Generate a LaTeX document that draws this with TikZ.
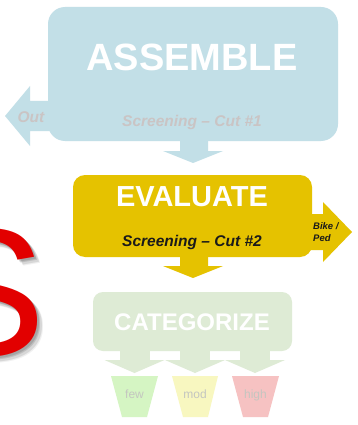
\documentclass[tikz,border=0pt]{standalone}
\usepackage{fontspec}
\setmainfont{Liberation Sans}
\definecolor{asmblue}{RGB}{194,223,231}
\definecolor{evgold}{RGB}{229,194,0}
\definecolor{catgreen}{RGB}{222,235,213}
\definecolor{fewgreen}{RGB}{213,245,195}
\definecolor{modyellow}{RGB}{248,247,192}
\definecolor{highpink}{RGB}{246,194,194}
\definecolor{fadetext}{RGB}{202,196,196}
\definecolor{bucktext}{RGB}{196,198,192}
\definecolor{darktext}{RGB}{26,26,26}
\definecolor{sred}{RGB}{226,0,0}
\begin{document}
\begin{tikzpicture}[x=1pt,y=-1pt,
  bigtitle/.style={inner sep=0pt,text=white,font=\fontsize{#1}{#1}\selectfont\bfseries},
  subtitle/.style={inner sep=0pt,anchor=base,font=\fontsize{15.5}{16}\selectfont\bfseries\itshape},
  bucketlabel/.style={inner sep=0pt,anchor=base,text=bucktext,font=\fontsize{12}{12}\selectfont},
  sidelabel/.style={inner sep=0pt,anchor=base west,text=darktext,font=\fontsize{9.5}{10}\selectfont\bfseries\itshape}]
\useasboundingbox (0,0) rectangle (358,425);
\fill[white] (0,0) rectangle (358,425);

% big red S with shadow
\begin{scope}
\clip (0,0) rectangle (358,425);
\foreach \d/\o in {2/0.12,3.5/0.12,5/0.10,6.5/0.06}
  \node[inner sep=0pt,anchor=base west,text=black,opacity=\o,font=\fontsize{182}{182}\selectfont] at (-76+\d,355+\d) {S};
\node (bigS) [inner sep=0pt,anchor=base west,text=sred,font=\fontsize{182}{182}\selectfont] at (-76,355) {S};
\end{scope}

% ASSEMBLE
\fill[asmblue,rounded corners=17] (48,7) rectangle (338,141);
\fill[asmblue] (180,139) -- (208,139) -- (208,151) -- (223,151) -- (193,163) -- (163,151) -- (180,151) -- cycle;
\fill[asmblue] (50,101) -- (30,101) -- (30,86) -- (5,116) -- (30,146) -- (30,131) -- (50,131) -- cycle;
\node (asm) [bigtitle=38] at (192,57) {ASSEMBLE};
\node (cut1) [subtitle,text=fadetext] at (192,126) {Screening – Cut \#1};
\node (out) [subtitle,text=fadetext] at (31,122) {Out};

% EVALUATE
\fill[evgold,rounded corners=12] (73,175) rectangle (312,257);
\fill[evgold] (310,214) -- (323,214) -- (323,202) -- (352,232) -- (323,262) -- (323,250) -- (310,250) -- cycle;
\fill[evgold] (180,255) -- (208,255) -- (208,266) -- (223,266) -- (193,278) -- (163,266) -- (180,266) -- cycle;
\node (eval) [bigtitle=29] at (192,196.5) {EVALUATE};
\node (cut2) [subtitle,text=darktext] at (192,246) {Screening – Cut \#2};
\node (bike) [sidelabel] at (313,229) {Bike /};
\node (ped) [sidelabel] at (313,241) {Ped};

% CATEGORIZE
\fill[catgreen,rounded corners=10] (93,292) rectangle (292,351);
\foreach \c in {134.5,195,255}{
  \fill[catgreen] (\c-15,349) rectangle (\c+15,360);
  \fill[catgreen] (\c-30,360) -- (\c+30,360) -- (\c,373) -- cycle;
}
\node (cat) [bigtitle=24] at (192,322) {CATEGORIZE};

% buckets
\fill[fewgreen] (111,376) -- (158,376) -- (147,417) -- (122,417) -- cycle;
\fill[modyellow] (172,376) -- (218,376) -- (208,417) -- (183,417) -- cycle;
\fill[highpink] (232,376) -- (279,376) -- (268,417) -- (243,417) -- cycle;
\node (few) [bucketlabel] at (134.5,398) {few};
\node (mod) [bucketlabel] at (195,398) {mod};
\node (high) [bucketlabel] at (255.5,398) {high};
\end{tikzpicture}
\end{document}
